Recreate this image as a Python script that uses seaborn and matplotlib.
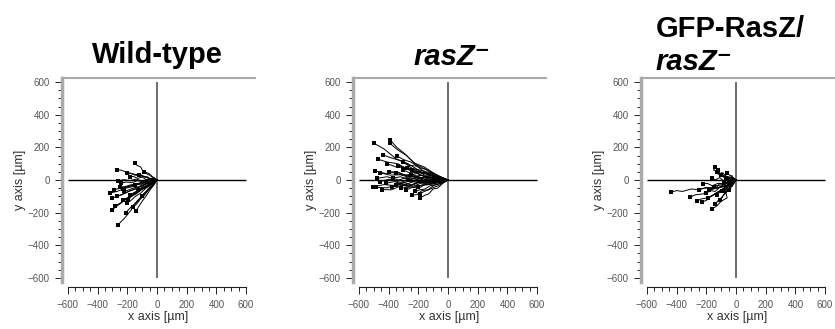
import pandas as pd
import matplotlib
matplotlib.use("Agg")
import matplotlib.pyplot as plt
from matplotlib.ticker import FixedLocator
import seaborn as sns

# cell tracks, one list per track, all start at the origin (um)
wt_x = [
    [0, -30, -55, -95, -110, -135, -148],
    [0, -50, -110, -150, -200, -240, -272],
    [0, -40, -85, -110, -150, -180, -200],
    [0, -55, -100, -140, -180, -225, -263],
    [0, -35, -70, -100, -130, -160, -180],
    [0, -60, -110, -160, -210, -270, -317],
    [0, -55, -105, -160, -210, -255, -290],
    [0, -50, -90, -135, -180, -220, -250],
    [0, -60, -110, -160, -210, -270, -305],
    [0, -55, -100, -150, -200, -245, -283],
    [0, -45, -95, -140, -175, -215, -263],
    [0, -30, -60, -85, -115, -140, -162],
    [0, -45, -85, -125, -165, -200, -230],
    [0, -40, -75, -110, -145, -175, -200],
    [0, -55, -100, -145, -190, -235, -270],
    [0, -45, -80, -120, -160, -195, -220],
    [0, -35, -65, -100, -130, -160, -180],
    [0, -25, -50, -70, -95, -115, -130],
    [0, -50, -85, -130, -170, -210, -240],
    [0, -30, -55, -80, -105, -130, -150],
    [0, -25, -45, -65, -85, -105, -120],
    [0, -20, -35, -55, -70, -90, -100],
    [0, -40, -75, -110, -145, -185, -210],
    [0, -60, -110, -160, -205, -255, -300],
    [0, -30, -50, -75, -100, -125, -140],
    [0, -20, -35, -50, -65, -80, -90],
    [0, -40, -70, -105, -140, -170, -195],
    [0, -45, -80, -120, -160, -195, -230],
]
wt_y = [
    [0, 20, 40, 55, 80, 90, 104],
    [0, 10, 30, 35, 45, 60, 63],
    [0, 5, 20, 25, 30, 42, 40],
    [0, 5, -8, 6, -4, 2, -6],
    [0, 8, 0, 18, 10, 22, 20],
    [0, -15, -20, -40, -50, -70, -80],
    [0, -5, -25, -30, -45, -52, -60],
    [0, -10, -12, -25, -30, -42, -40],
    [0, -30, -60, -90, -120, -160, -184],
    [0, -35, -55, -85, -110, -140, -159],
    [0, -50, -95, -140, -185, -230, -275],
    [0, -40, -60, -95, -120, -150, -165],
    [0, -20, -45, -65, -85, -110, -120],
    [0, -30, -50, -80, -100, -125, -140],
    [0, -15, -35, -55, -70, -90, -100],
    [0, -20, -22, -40, -50, -62, -70],
    [0, -15, -32, -45, -65, -80, -90],
    [0, -15, -18, -35, -42, -55, -60],
    [0, 0, -12, -4, -16, -12, -20],
    [0, -5, -18, -12, -25, -22, -30],
    [0, 10, 6, 20, 18, 30, 30],
    [0, -25, -40, -55, -75, -85, -100],
    [0, -35, -70, -105, -140, -175, -200],
    [0, -20, -40, -58, -75, -95, -110],
    [0, -40, -65, -100, -130, -165, -190],
    [0, 15, 18, 30, 35, 48, 50],
    [0, -25, -45, -60, -85, -100, -120],
    [0, 5, -12, -18, -35, -40, -55],
]

ras_x = [
    [0, -90, -180, -270, -350, -430, -501],
    [0, -80, -160, -230, -290, -345, -389],
    [0, -75, -150, -215, -280, -340, -393],
    [0, -80, -160, -240, -310, -380, -438],
    [0, -90, -180, -260, -340, -410, -474],
    [0, -65, -130, -190, -250, -300, -344],
    [0, -60, -120, -180, -240, -290, -335],
    [0, -90, -175, -260, -340, -420, -490],
    [0, -85, -165, -245, -320, -390, -456],
    [0, -90, -180, -270, -350, -430, -503],
    [0, -85, -170, -255, -335, -410, -483],
    [0, -80, -160, -235, -310, -380, -445],
    [0, -45, -90, -135, -175, -210, -243],
    [0, -35, -70, -100, -130, -160, -187],
    [0, -65, -130, -195, -260, -320, -368],
    [0, -75, -150, -220, -290, -360, -420],
    [0, -85, -170, -250, -330, -410, -480],
    [0, -70, -140, -210, -280, -345, -400],
    [0, -55, -110, -160, -210, -260, -300],
    [0, -60, -125, -185, -245, -300, -350],
    [0, -50, -100, -150, -195, -240, -280],
    [0, -45, -90, -135, -175, -215, -250],
    [0, -55, -115, -170, -225, -275, -320],
    [0, -80, -160, -240, -320, -395, -460],
    [0, -70, -135, -200, -265, -325, -380],
    [0, -40, -80, -120, -155, -190, -220],
    [0, -50, -105, -160, -210, -260, -300],
    [0, -45, -95, -145, -190, -235, -270],
    [0, -35, -70, -105, -140, -170, -200],
    [0, -70, -140, -210, -280, -350, -410],
    [0, -60, -120, -180, -240, -300, -350],
    [0, -40, -85, -125, -165, -205, -240],
    [0, -30, -65, -95, -130, -160, -190],
    [0, -50, -95, -150, -190, -240, -275],
]
ras_y = [
    [0, 25, 50, 100, 130, 190, 226],
    [0, 30, 80, 105, 160, 200, 245],
    [0, 20, 65, 95, 150, 185, 226],
    [0, 15, 55, 70, 115, 135, 153],
    [0, 20, 45, 60, 100, 110, 128],
    [0, 25, 60, 75, 110, 125, 147],
    [0, 15, 40, 45, 70, 75, 88],
    [0, 5, 28, 20, 48, 40, 55],
    [0, -5, 15, 12, 32, 30, 43],
    [0, 5, -15, -8, -35, -28, -41],
    [0, -10, -8, -32, -22, -48, -45],
    [0, -15, -12, -38, -32, -60, -59],
    [0, -20, -30, -60, -65, -90, -92],
    [0, -20, -50, -55, -85, -95, -110],
    [0, 10, -5, 18, 0, 20, 12],
    [0, 0, -20, -5, -30, -10, -20],
    [0, 10, 0, 25, 0, 20, 10],
    [0, 15, 15, 40, 25, 50, 50],
    [0, 5, 25, 20, 45, 45, 60],
    [0, -5, -20, -5, -30, -15, -30],
    [0, -10, -25, -25, -50, -45, -60],
    [0, 10, 20, 10, 30, 20, 30],
    [0, -15, -25, -30, -42, -45, -50],
    [0, 5, -10, 10, -15, 5, -10],
    [0, -5, -25, -15, -40, -30, -40],
    [0, -15, -30, -35, -55, -60, -70],
    [0, 20, 45, 50, 85, 90, 110],
    [0, -10, 10, -15, 10, -10, 0],
    [0, -10, -15, -20, -30, -30, -40],
    [0, 10, 40, 45, 75, 80, 100],
    [0, 5, 20, 10, 35, 30, 40],
    [0, 15, 25, 30, 45, 50, 60],
    [0, -15, -35, -45, -60, -70, -85],
    [0, 10, 30, 25, 50, 55, 75],
]

gfp_x = [
    [0, -40, -90, -150, -200, -250, -300, -360, -400, -440],
    [0, -50, -110, -170, -220, -270, -310],
    [0, -40, -70, -60, -100, -130, -164],
    [0, -40, -70, -110, -120, -150, -142],
    [0, -50, -100, -150, -190, -230, -265],
    [0, -40, -90, -130, -170, -200, -231],
    [0, -40, -80, -120, -160, -195, -222],
    [0, -30, -50, -80, -90, -110, -120],
    [0, -20, -45, -60, -80, -90, -100],
    [0, -30, -60, -100, -120, -150, -180],
    [0, -30, -60, -80, -110, -130, -150],
    [0, -20, -50, -70, -90, -110, -130],
    [0, -25, -40, -60, -55, -80, -90],
    [0, -40, -70, -110, -140, -170, -200],
    [0, -15, -30, -25, -45, -55, -60],
    [0, -20, -35, -50, -60, -75, -80],
    [0, -20, -40, -60, -80, -95, -110],
    [0, -30, -55, -85, -110, -140, -160],
    [0, -15, -30, -25, -40, -45, -50],
    [0, -30, -50, -75, -100, -120, -140],
    [0, -15, -30, -45, -55, -65, -70],
    [0, -35, -70, -100, -135, -165, -190],
    [0, -45, -90, -135, -175, -215, -250],
    [0, -25, -50, -80, -100, -120, -130],
    [0, -10, -20, -25, -35, -40, -40],
    [0, -20, -45, -35, -60, -75, -95],
    [0, -25, -15, -40, -55, -45, -70],
]
gfp_y = [
    [0, -30, -40, -50, -45, -60, -55, -70, -65, -75],
    [0, -30, -45, -60, -85, -90, -104],
    [0, -40, -70, -110, -130, -160, -177],
    [0, 15, 10, 35, 55, 60, 80],
    [0, -40, -60, -90, -110, -115, -129],
    [0, -30, -55, -80, -100, -125, -135],
    [0, -10, -30, -20, -35, -20, -24],
    [0, 20, 10, 35, 45, 40, 60],
    [0, -10, 10, 5, 25, 20, 30],
    [0, -20, -10, -40, -50, -45, -60],
    [0, 10, -15, -25, -20, -45, -40],
    [0, -25, -30, -55, -70, -75, -90],
    [0, -10, -30, -35, -55, -60, -70],
    [0, -20, -40, -45, -70, -65, -80],
    [0, 10, 5, 25, 30, 45, 40],
    [0, 5, -15, -5, -25, -15, -20],
    [0, -30, -45, -70, -85, -110, -120],
    [0, -10, 5, -5, 15, 0, 10],
    [0, -15, -20, -40, -45, -55, -60],
    [0, -35, -60, -85, -110, -125, -150],
    [0, 10, -5, 15, 0, 15, 10],
    [0, -25, -40, -65, -80, -100, -110],
    [0, -10, -30, -35, -50, -50, -60],
    [0, 15, 20, 25, 40, 35, 50],
    [0, -10, -5, -20, -15, -25, -30],
    [0, -15, -35, -55, -50, -75, -65],
    [0, 20, -10, 0, -30, -20, -45],
]

ticks = [-600, -400, -200, 0, 200, 400, 600]
minor_ticks = list(range(-600, 601, 50))

sns.set_style("ticks")
plt.rcParams['font.family'] = ['Liberation Sans', 'DejaVu Sans']

fig = plt.figure(figsize=(8.35, 3.29), dpi=100)
lefts = [62 / 835, 353 / 835, 641 / 835]
panels = [(wt_x, wt_y), (ras_x, ras_y), (gfp_x, gfp_y)]

for left, (tx, ty) in zip(lefts, panels):
    ax = fig.add_axes([left, 1 - 282 / 329, 193 / 835, 204 / 329])
    rows = []
    for k, (xs, ys) in enumerate(zip(tx, ty)):
        for i, (x, y) in enumerate(zip(xs, ys)):
            rows.append({"track": k, "step": i, "x": x, "y": y})
    df = pd.DataFrame(rows)

    # axis cross
    ax.hlines(0, ticks[0], ticks[-1], color="black", lw=1.0, zorder=1)
    ax.vlines(0, ticks[0], ticks[-1], color="#555555", lw=1.2, zorder=1)

    sns.lineplot(data=df, x="x", y="y", units="track", estimator=None,
                 sort=False, color="black", lw=0.7, ax=ax, zorder=2)
    ends = df.groupby("track").tail(1)
    sns.scatterplot(data=ends, x="x", y="y", marker="s", s=7, color="black",
                    linewidth=0, ax=ax, zorder=3)

    ax.set_xlim(-640, 660)
    ax.set_ylim(-625, 625)
    ax.set_xticks(ticks)
    ax.set_yticks(ticks)
    ax.xaxis.set_minor_locator(FixedLocator(minor_ticks))
    ax.yaxis.set_minor_locator(FixedLocator(minor_ticks))

    ax.spines["right"].set_visible(False)
    ax.spines["top"].set_color("#aaaaaa")
    ax.spines["top"].set_linewidth(1.5)
    ax.spines["left"].set_color("#aaaaaa")
    ax.spines["left"].set_linewidth(2.5)
    ax.spines["bottom"].set_color("#222222")
    ax.spines["bottom"].set_linewidth(0.8)
    ax.spines["bottom"].set_position(("outward", 3.6))
    ax.spines["bottom"].set_bounds(ticks[0], ticks[-1])

    ax.tick_params(which="both", direction="out", color="#222222",
                   labelcolor="#555555", labelsize=7, width=0.7, pad=4)
    ax.tick_params(which="major", length=5)
    ax.tick_params(which="minor", length=3)

    ax.set_xlabel("x axis [µm]", fontsize=9, color="#333333", labelpad=1)
    ax.set_ylabel("y axis [µm]", fontsize=9, color="#333333", labelpad=1)

title_kw = dict(fontsize=21, fontweight="bold", color="black", va="baseline")
fig.text(157 / 835, 1 - 63 / 329, "Wild-type", ha="center", **title_kw)
fig.text(452 / 835, 1 - 65 / 329, "rasZ⁻", ha="center", fontstyle="italic",
         **title_kw)
fig.text(656 / 835, 1 - 37 / 329, "GFP-RasZ/", ha="left", **title_kw)
fig.text(656 / 835, 1 - 70 / 329, "rasZ⁻", ha="left", fontstyle="italic",
         **title_kw)

fig.savefig("out.png", dpi=100)
